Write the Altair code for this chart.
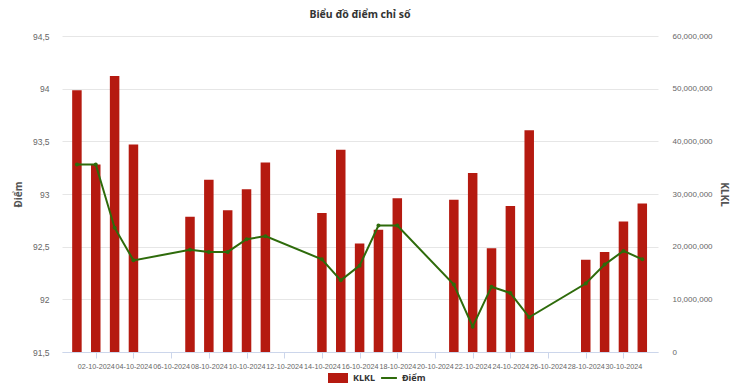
import altair as alt
import pandas as pd

dates = ["2024-10-01", "2024-10-02", "2024-10-03", "2024-10-04", "2024-10-07",
         "2024-10-08", "2024-10-09", "2024-10-10", "2024-10-11", "2024-10-14",
         "2024-10-15", "2024-10-16", "2024-10-17", "2024-10-18", "2024-10-21",
         "2024-10-22", "2024-10-23", "2024-10-24", "2024-10-25", "2024-10-28",
         "2024-10-29", "2024-10-30", "2024-10-31"]
klkl = [49.7e6, 35.6e6, 52.4e6, 39.4e6, 25.7e6, 32.7e6, 26.9e6, 30.9e6, 36.0e6,
        26.4e6, 38.4e6, 20.6e6, 23.2e6, 29.2e6, 28.9e6, 34.0e6, 19.7e6, 27.7e6,
        42.1e6, 17.5e6, 19.0e6, 24.8e6, 28.2e6]
diem = [93.28, 93.28, 92.68, 92.37, 92.47, 92.45, 92.45, 92.57, 92.60, 92.38,
        92.18, 92.32, 92.70, 92.70, 92.14, 91.74, 92.12, 92.06, 91.83, 92.15,
        92.33, 92.46, 92.38]
tick_dates = ["2024-10-%02dT00:00:00" % d for d in range(2, 31, 2)]

df = pd.DataFrame({"date": [d + "T00:00:00" for d in dates], "KLKL": klkl, "Diem": diem})
df["s1"] = "KLKL"
df["s2"] = "Điểm"

NUMFONT = "Liberation Sans"
TXTFONT = "Noto Sans"
RED = "#b51a10"
GREEN = "#2e6b0b"

x = alt.X("date:T",
          scale=alt.Scale(domain=["2024-09-30T05:00:00", "2024-10-31T20:00:00"], padding=0),
          axis=alt.Axis(title=None, values=tick_dates, format="%d-%m-%Y",
                        labelFont=NUMFONT, labelFontSize=7.2, labelColor="#666666",
                        tickColor="#ccd6eb", domainColor="#ccd6eb", tickSize=6,
                        labelPadding=4, grid=False, labelAngle=0,
                        labelOverlap=False))

bars = alt.Chart(df).mark_bar(size=9.5).encode(
    x=x,
    y=alt.Y("KLKL:Q",
            scale=alt.Scale(domain=[0, 60000000], nice=False),
            axis=alt.Axis(orient="right", title="KLKL", format=",d",
                          values=[0, 10000000, 20000000, 30000000, 40000000, 50000000, 60000000],
                          grid=False, domain=False, ticks=False, labelPadding=14,
                          labelFont=NUMFONT, labelFontSize=8, labelColor="#666666",
                          titleFont=TXTFONT, titleFontSize=10, titleColor="#555555",
                          titleFontWeight="bold", titleAngle=90, titlePadding=6)),
    color=alt.Color("s1:N", scale=alt.Scale(domain=["KLKL"], range=[RED]),
                    legend=alt.Legend(title=None, orient="none", legendX=265, legendY=331,
                                      symbolType="M-1,-0.5L1,-0.5L1,0.5L-1,0.5Z",
                                      symbolSize=400, labelFont=TXTFONT, labelFontSize=9,
                                      labelFontWeight="bold", labelColor="#333333")),
)

line = alt.Chart(df).mark_line(strokeWidth=2, point=alt.OverlayMarkDef(size=16, filled=True)).encode(
    x=x,
    y=alt.Y("Diem:Q",
            scale=alt.Scale(domain=[91.5, 94.5], nice=False, zero=False),
            axis=alt.Axis(orient="left", title="Điểm",
                          values=[91.5, 92, 92.5, 93, 93.5, 94, 94.5],
                          labelExpr="replace(toString(datum.value), '.', ',')",
                          grid=True, gridColor="#e6e6e6", domain=False, ticks=False,
                          labelPadding=13, labelFont=NUMFONT, labelFontSize=8.5,
                          labelColor="#666666", titleFont=TXTFONT, titleFontSize=10,
                          titleFontWeight="bold", titleColor="#555555", titlePadding=9)),
    color=alt.Color("s2:N", scale=alt.Scale(domain=["Điểm"], range=[GREEN]),
                    legend=alt.Legend(title=None, orient="none", legendX=318, legendY=333,
                                      symbolType="stroke", symbolSize=250,
                                      symbolStrokeWidth=2, labelFont=TXTFONT, labelFontSize=9,
                                      labelFontWeight="bold", labelColor="#333333")),
)

chart = alt.layer(bars, line).resolve_scale(y="independent", color="independent").properties(
    width=596, height=316,
    title=alt.Title("Biểu đồ điểm chỉ số", font=TXTFONT, fontSize=10.5, fontWeight="bold",
                    color="#333333", anchor="middle", offset=12),
    autosize=alt.AutoSizeParams(type="none"),
    padding={"left": 54, "top": 28, "right": 81, "bottom": 39},
).configure_view(stroke=None)

chart.save("out.html", embed_options={"renderer": "svg", "actions": False})
